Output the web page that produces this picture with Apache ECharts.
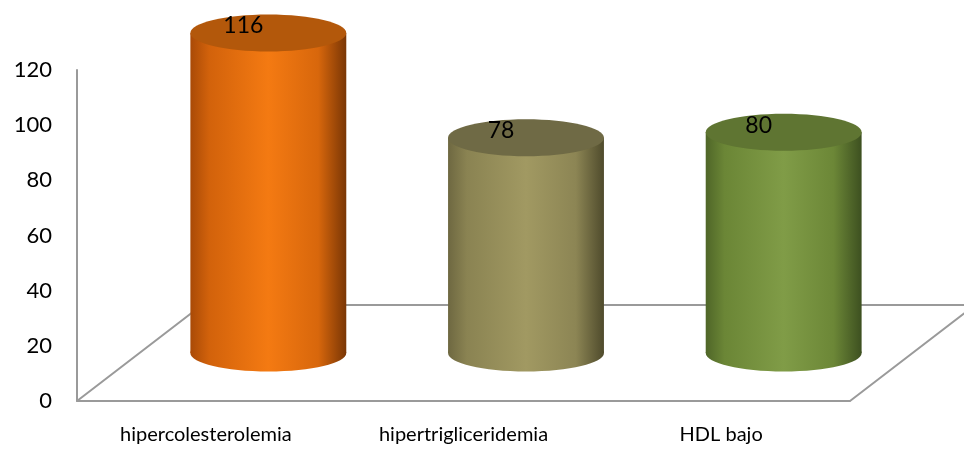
<!DOCTYPE html>
<html>
<head>
<meta charset="utf-8">
<style>
  html, body { margin: 0; padding: 0; background: #ffffff; }
  #chart { width: 964px; height: 453px; }
</style>
<script src="https://cdn.jsdelivr.net/npm/echarts@6/dist/echarts.min.js"></script>
</head>
<body>
<div id="chart"></div>
<script>
// Chart data
const categories = ['hipercolesterolemia', 'hipertrigliceridemia', 'HDL bajo'];
const values = [116, 78, 80];
const yMin = 0;
const yMax = 120;
const yStep = 20;

// Fill palette for each cylinder: side shading stops and top cap
const palettes = [
  { side: ['#a94a07', '#d2620b', '#f47a12', '#d8670c', '#7a3605'], top: '#b3580b' },
  { side: ['#6e6841', '#8a8352', '#a19962', '#8c8554', '#4f4b2c'], top: '#6f6a45' },
  { side: ['#4f6628', '#6b8636', '#809c47', '#6c8737', '#3d5020'], top: '#5f7532' }
];

// Oblique depth of the floor (pixels, right and up)
const DEPTH = [125, -96];
const CAP_RY = 18.5;
const BAR_RATIO = 0.605;

const chart = echarts.init(document.getElementById('chart'), null, { renderer: 'canvas' });

function renderFloor(params, api) {
  const cs = params.coordSys;
  const left = cs.x, right = cs.x + cs.width, bottom = cs.y + cs.height;
  return {
    type: 'polyline',
    shape: {
      points: [
        [left, bottom],
        [left + DEPTH[0], bottom + DEPTH[1]],
        [right + DEPTH[0], bottom + DEPTH[1]],
        [right, bottom]
      ]
    },
    style: { stroke: '#9a9a9a', lineWidth: 2, fill: null }
  };
}

function renderCylinder(params, api) {
  const idx = api.value(0);
  const val = api.value(1);
  const top = api.coord([idx, val]);
  const base = api.coord([idx, 0]);
  const band = api.size([1, 0])[0];
  const rx = band * BAR_RATIO / 2;
  const cx = top[0] + DEPTH[0] / 2;
  const ty = top[1] + DEPTH[1] / 2;
  const by = base[1] + DEPTH[1] / 2;
  const pal = palettes[params.dataIndex];
  const s = pal.side;
  const sideFill = () => new echarts.graphic.LinearGradient(0, 0, 1, 0, [
    { offset: 0, color: s[0] },
    { offset: 0.12, color: s[1] },
    { offset: 0.5, color: s[2] },
    { offset: 0.82, color: s[3] },
    { offset: 1, color: s[4] }
  ]);
  return {
    type: 'group',
    children: [
      { type: 'ellipse', shape: { cx: cx, cy: by, rx: rx, ry: CAP_RY }, style: { fill: sideFill() } },
      { type: 'rect', shape: { x: cx - rx, y: ty, width: rx * 2, height: by - ty }, style: { fill: sideFill() } },
      { type: 'ellipse', shape: { cx: cx, cy: ty, rx: rx, ry: CAP_RY }, style: { fill: pal.top } },
      {
        type: 'text',
        style: {
          text: String(val),
          x: cx - 25,
          y: ty - 7,
          align: 'center',
          verticalAlign: 'middle',
          fontFamily: 'Lato, "Open Sans", sans-serif',
          fontSize: 23,
          fill: '#000000'
        }
      }
    ]
  };
}

chart.setOption({
  animation: false,
  backgroundColor: '#ffffff',
  grid: { left: 77, right: 114, top: 70, bottom: 52, containLabel: false },
  xAxis: {
    type: 'category',
    data: categories,
    boundaryGap: true,
    axisLine: { show: true, lineStyle: { color: '#9a9a9a', width: 2 } },
    axisTick: { show: false },
    axisLabel: {
      fontFamily: 'Lato, "Open Sans", sans-serif',
      fontSize: 20,
      color: '#000000',
      margin: 24
    },
    splitLine: { show: false }
  },
  yAxis: {
    type: 'value',
    min: yMin,
    max: yMax,
    interval: yStep,
    axisLine: { show: true, lineStyle: { color: '#9a9a9a', width: 2 } },
    axisTick: { show: false },
    axisLabel: {
      fontFamily: 'Lato, "Open Sans", sans-serif',
      fontSize: 22,
      color: '#000000',
      margin: 25
    },
    splitLine: { show: false }
  },
  series: [
    {
      type: 'custom',
      z: 1,
      silent: true,
      clip: false,
      renderItem: renderFloor,
      data: [[0, 0]]
    },
    {
      type: 'custom',
      z: 2,
      silent: true,
      clip: false,
      renderItem: renderCylinder,
      encode: { x: 0, y: 1 },
      data: values.map((v, i) => [i, v])
    }
  ]
});
</script>
</body>
</html>
